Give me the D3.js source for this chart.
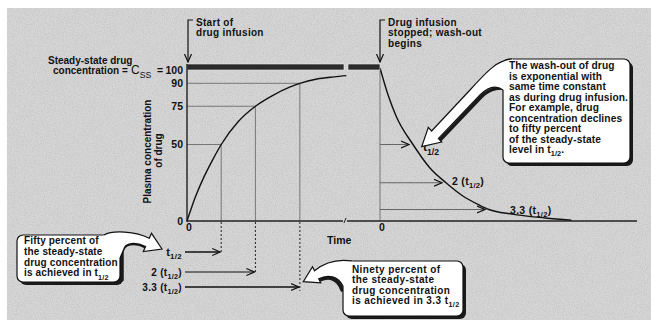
<!DOCTYPE html>
<html><head><meta charset="utf-8">
<script src="https://cdn.jsdelivr.net/npm/d3@7"></script>
<style>
html,body{margin:0;padding:0;background:#fff;}
svg{display:block;}
text{font-family:"Liberation Sans",Arial,Helvetica,sans-serif;font-weight:bold;fill:#111;}
</style></head>
<body>
<div id="chart"></div>
<script>
// ---------- data ----------
const yTickValues = [0, 50, 75, 90, 100];
const xTickValues = [0];
// infusion phase: time in half-lives, concentration in % of Css
const riseTime = [0, 0.25, 0.5, 0.75, 1, 1.5, 2, 2.5, 3, 3.3, 3.8, 4.3, 4.66];
const riseConc = [0, 16, 29, 40, 50, 65, 75, 82, 87.5, 90, 92.8, 94.2, 95];
// wash-out phase
const washTime = [0, 0.25, 0.5, 1, 1.5, 2, 2.5, 3, 3.3, 4, 5, 5.8];
const washConc = [100, 82, 68, 50, 35, 25, 16.5, 10.5, 7.5, 4.5, 2, 0.5];
// marked half-life multiples
const markMultiples = [1, 2, 3.3];
const riseLevels = [50, 75, 90];
const washLevels = [50, 25, 7.5];
const markPrefix = ["", "2 (", "3.3 ("];
const markSuffix = ["", ")", ")"];
const steadyLevel = 100;

const leftNote = ["Fifty percent of", "the steady-state", "drug concentration", "is achieved in t"];
const rightNote = ["The wash-out of drug", "is exponential with", "same time constant", "as during drug infusion.",
  "For example, drug", "concentration declines", "to fifty percent", "of the steady-state", "level in t"];
const bottomNote = ["Ninety percent of", "the steady-state", "drug concentration", "is achieved in 3.3 t"];

// ---------- drawing ----------
const W = 659, H = 328;
const svg = d3.select("#chart").append("svg").attr("width", W).attr("height", H);
const defs = svg.append("defs");
defs.append("marker").attr("id", "arr").attr("viewBox", "0 -5 9 10").attr("refX", 8).attr("refY", 0)
  .attr("markerWidth", 9).attr("markerHeight", 10).attr("markerUnits", "userSpaceOnUse").attr("orient", "auto")
  .append("path").attr("d", "M0,-3.5L8,0L0,3.5").attr("fill", "none").attr("stroke", "#111").attr("stroke-width", 1.2);

const grain = defs.append("filter").attr("id", "grain").attr("x", 0).attr("y", 0).attr("width", "100%").attr("height", "100%");
grain.append("feTurbulence").attr("type", "fractalNoise").attr("baseFrequency", 0.9).attr("numOctaves", 2).attr("seed", 4).attr("result", "n");
grain.append("feColorMatrix").attr("in", "n").attr("type", "matrix")
  .attr("values", "0 0 0 0 0  0 0 0 0 0  0 0 0 0 0  1.6 0 0 0 -0.6");

// background panel
svg.append("rect").attr("x", 7).attr("y", 8).attr("width", 644).attr("height", 312).attr("fill", "#d6d6d6");
svg.append("rect").attr("x", 7).attr("y", 8).attr("width", 644).attr("height", 312).attr("fill", "#000")
  .attr("opacity", 0.1).attr("filter", "url(#grain)");

const y = d3.scaleLinear().domain([0, 100]).range([221, 68]);
const xR = d3.scaleLinear().domain([0, 1]).range([187, 221.2]);
const xW = d3.scaleLinear().domain([0, 1]).range([380, 413]);
const axisY = 221;

function rich(sel, x, yy, segs, size, anchor, ls) {
  const t = sel.append("text").attr("x", x).attr("y", yy).attr("font-size", size)
    .attr("text-anchor", anchor || "start").attr("letter-spacing", ls || 0);
  let inSub = false;
  segs.forEach(s => {
    const sub = typeof s !== "string";
    const txt = sub ? s.sub : s;
    const ts = t.append("tspan").text(txt);
    if (sub && !inSub) ts.attr("dy", size * 0.32).attr("font-size", size * 0.72);
    else if (sub) ts.attr("font-size", size * 0.72);
    if (!sub && inSub) ts.attr("dy", -size * 0.32);
    inSub = sub;
  });
  return t;
}

// guide lines in infusion panel
const g = svg.append("g");
markMultiples.forEach((m, i) => {
  const xx = xR(m), yy = y(riseLevels[i]);
  g.append("line").attr("x1", xR(0)).attr("x2", xx).attr("y1", yy).attr("y2", yy).attr("stroke", "#777").attr("stroke-width", 1);
  g.append("line").attr("x1", xx).attr("x2", xx).attr("y1", yy).attr("y2", axisY).attr("stroke", "#777").attr("stroke-width", 1);
});
// dashed drop lines + bottom arrows
const bottomY = [252, 272, 287];
markMultiples.forEach((m, i) => {
  const xx = xR(m);
  g.append("line").attr("x1", xx).attr("x2", xx).attr("y1", axisY + 1).attr("y2", bottomY[i] + (i === 2 ? 4 : 0))
    .attr("stroke", "#222").attr("stroke-width", 1).attr("stroke-dasharray", "2,2");
  g.append("line").attr("x1", 185).attr("x2", xx - 1).attr("y1", bottomY[i]).attr("y2", bottomY[i])
    .attr("stroke", "#111").attr("stroke-width", i === 1 ? 1 : 1.6).attr("marker-end", "url(#arr)");
  rich(g, 182, bottomY[i] + 3.5, [markPrefix[i] + "t", {sub: "1/2"}, markSuffix[i]], i === 0 ? 11 : 10, "end", 0.3);
});

// wash-out panel
g.append("line").attr("x1", xW(0)).attr("x2", xW(0)).attr("y1", y(steadyLevel)).attr("y2", axisY).attr("stroke", "#777");
markMultiples.forEach((m, i) => {
  const yy = y(washLevels[i]);
  g.append("line").attr("x1", xW(0)).attr("x2", xW(m) - 4).attr("y1", yy).attr("y2", yy)
    .attr("stroke", "#666").attr("stroke-width", 1).attr("marker-end", "url(#arr)");
});
rich(g, 423, 151, ["t", {sub: "1/2"}], 12);
rich(g, 452, 185, ["2 (t", {sub: "1/2"}, ")"], 10.5, "start", 0.3);
rich(g, 510, 214, ["3.3 (t", {sub: "1/2"}, ")"], 10.5, "start", 0.3);

// curves
const line = d3.line().curve(d3.curveMonotoneX);
g.append("path").attr("d", line(d3.zip(riseTime, riseConc).map(d => [xR(d[0]), y(d[1])])))
  .attr("fill", "none").attr("stroke", "#111").attr("stroke-width", 1.4);
g.append("path").attr("d", line(d3.zip(washTime, washConc).map(d => [xW(d[0]), y(d[1])])))
  .attr("fill", "none").attr("stroke", "#111").attr("stroke-width", 1.4);

// steady-state bar (with break)
const barY = y(steadyLevel) - 4;
g.append("rect").attr("x", xR(0)).attr("y", barY).attr("width", 344 - xR(0)).attr("height", 6)
  .attr("fill", "#2b2b2b").attr("stroke", "#eee").attr("stroke-width", 0.6);
g.append("rect").attr("x", 348).attr("y", barY).attr("width", xW(0) - 348).attr("height", 6)
  .attr("fill", "#2b2b2b").attr("stroke", "#eee").attr("stroke-width", 0.6);

// axes
g.append("line").attr("x1", xR(0)).attr("x2", xR(0)).attr("y1", barY).attr("y2", axisY + 1).attr("stroke", "#111").attr("stroke-width", 1.3);
g.append("line").attr("x1", xR(0)).attr("x2", 343).attr("y1", axisY).attr("y2", axisY).attr("stroke", "#222").attr("stroke-width", 1.5);
g.append("line").attr("x1", 347).attr("x2", 637).attr("y1", axisY).attr("y2", axisY).attr("stroke", "#222").attr("stroke-width", 1.5);
g.append("line").attr("x1", 344).attr("x2", 346).attr("y1", axisY + 2).attr("y2", axisY - 3).attr("stroke", "#222").attr("stroke-width", 1);

const yAxis = svg.append("g").attr("transform", `translate(${xR(0)},0)`)
  .call(d3.axisLeft(y).tickValues(yTickValues).tickSize(0).tickPadding(4).tickFormat(d3.format("d")));
yAxis.select(".domain").remove();
yAxis.selectAll("text").attr("font-size", 10.5).attr("font-family", null).style("font-weight", "bold").attr("fill", "#111");
yAxis.selectAll(".tick").filter(d => d === 100).select("text").attr("dy", "0.55em");

[xR, xW].forEach(sc => {
  const xa = svg.append("g").attr("transform", `translate(0,${axisY})`)
    .call(d3.axisBottom(sc).tickValues(xTickValues).tickSize(0).tickPadding(3).tickFormat(d3.format("d")));
  xa.select(".domain").remove();
  xa.selectAll("text").attr("font-size", 10.5).attr("font-family", null).attr("fill", "#111").attr("dx", 1.5);
});
svg.append("text").attr("x", 327).attr("y", 244).attr("font-size", 10.5).text("Time");

// y title
svg.append("text").attr("transform", "translate(151,151.5) rotate(-90)").attr("text-anchor", "middle").attr("font-size", 10).text("Plasma concentration");
svg.append("text").attr("transform", "translate(162,150.5) rotate(-90)").attr("text-anchor", "middle").attr("font-size", 10).text("of drug");

// steady-state label
svg.append("text").attr("x", 48).attr("y", 64).attr("font-size", 10).text("Steady-state drug");
svg.append("text").attr("x", 53).attr("y", 74).attr("font-size", 10).text("concentration =");
rich(svg, 131, 74, ["C", {sub: "SS"}], 12).style("font-weight", "normal");
svg.append("text").attr("x", 157).attr("y", 74).attr("font-size", 10.5).text("=");

// top brackets
function bracket(x, lines) {
  svg.append("path").attr("d", `M${x + 5},20 L${x},20 L${x},62`).attr("fill", "none").attr("stroke", "#111").attr("stroke-width", 1.2).attr("marker-end", "url(#arr)");
  lines.forEach((l, i) => svg.append("text").attr("x", x + 8).attr("y", 26 + i * 10.3).attr("font-size", 10)
    .attr("letter-spacing", 0.3).text(l));
}
bracket(xR(0) + 1, ["Start of", "drug infusion"]);
bracket(xW(0), ["Drug infusion", "stopped; wash-out", "begins"]);

// ---------- callouts ----------
function callout(box, fillPath, shadowPath, strokePath) {
  const c = svg.append("g");
  c.append("rect").attr("x", box[0] + 3).attr("y", box[1] + 3).attr("width", box[2]).attr("height", box[3]).attr("rx", 6).attr("fill", "#1a1a1a");
  c.append("path").attr("d", shadowPath).attr("fill", "none").attr("stroke", "#1a1a1a").attr("stroke-width", 3.5).attr("stroke-linecap", "round");
  c.append("rect").attr("x", box[0]).attr("y", box[1]).attr("width", box[2]).attr("height", box[3]).attr("rx", 6).attr("fill", "#fff").attr("stroke", "#111").attr("stroke-width", 1.2);
  c.append("path").attr("d", fillPath).attr("fill", "#fff");
  c.append("path").attr("d", strokePath).attr("fill", "none").attr("stroke", "#111").attr("stroke-width", 1.2).attr("stroke-linejoin", "miter");
  return c;
}
// left
const lStroke = "M104,235 C112,230 136,231 149.2,238.3 L151.5,233.3 L162,249 L143.3,251.5 L145.6,246.5 C136,242 125,242 123.5,250 L120,258";
callout([17, 235, 103, 47], lStroke + " L110,258 L100,240 Z", "M122,280 L122,252 C123,243 135,241 146,247", lStroke);
// right
const rStroke = "M512,59 C498,60 488,70 470,90 L431.6,131 L428.3,127.3 L421.7,146.7 L441.7,142 L438.4,138.4 L480,95 C488,87 496,85 503,90";
callout([503, 59, 127, 104], rStroke + " L510,90 L515,62 Z", "M440,140 L481,97 C488,90 494,88 501,88", rStroke);
// bottom
const bStroke = "M352,261 C338,259 325,262 314.5,270.8 L312.5,266.8 L303.3,281.7 L320.7,282.8 L318.7,278.8 C328,274 338,276 343,286";
callout([343, 261, 120, 55], bStroke + " L350,286 L355,265 Z", "M320,280 C329,276 338,278 342,290", bStroke);

leftNote.forEach((l, i) => rich(svg, 24, 244 + i * 10.8, i === 3 ? [l, {sub: "1/2"}] : [l], 10, "start", 0.15));
rightNote.forEach((l, i) => rich(svg, 509, 69 + i * 10.5, i === 8 ? [l, {sub: "1/2"}, "."] : [l], 10.2, "start", 0.1));
bottomNote.forEach((l, i) => rich(svg, 352, 273 + i * 10.4, i === 3 ? [l, {sub: "1/2"}] : [l], 10, "start", 0.4));
</script>
</body></html>
